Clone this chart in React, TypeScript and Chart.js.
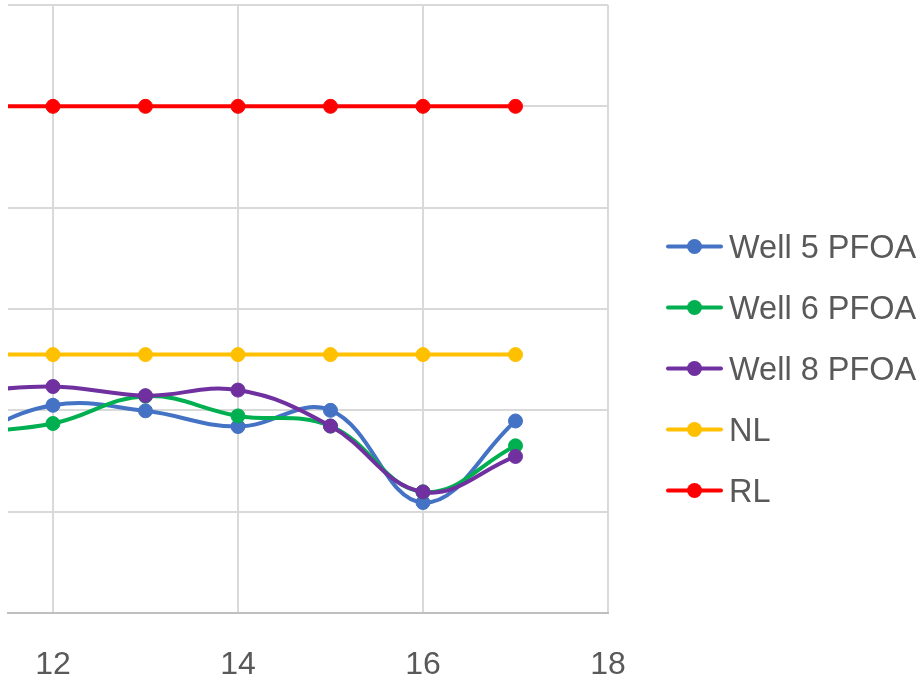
import React, { useEffect, useRef } from "react";
import { Chart, registerables } from "chart.js";

Chart.register(...registerables);

const xValues = [11, 12, 13, 14, 15, 16, 17];
const well5 = [3.4, 4.1, 3.99, 3.68, 4.0, 2.18, 3.79];
const well6 = [3.55, 3.74, 4.28, 3.89, 3.69, 2.39, 3.3];
const well8 = [4.35, 4.47, 4.29, 4.4, 3.69, 2.39, 3.09];
const nl = [5.1, 5.1, 5.1, 5.1, 5.1, 5.1, 5.1];
const rl = [10, 10, 10, 10, 10, 10, 10];

const seriesNames = ["Well 5 PFOA", "Well 6 PFOA", "Well 8 PFOA", "NL", "RL"];
const seriesColors = ["#4472C4", "#00B050", "#7030A0", "#FFC000", "#FF0000"];
const seriesValues = [well5, well6, well8, nl, rl];
const smooth = [true, true, true, false, false];

const xMin = 11.514;
const xMax = 18;
const yMin = 0;
const yMax = 12;
const xStep = 2;
const yStep = 2;

const FONT = "'Liberation Sans', Arial, sans-serif";

const legendPlugin = {
  id: "customLegend",
  afterDraw(chart: any) {
    const ctx = chart.ctx;
    ctx.save();
    const startY = 246.5;
    const gap = 61;
    seriesNames.forEach((name, i) => {
      const y = startY + i * gap;
      ctx.strokeStyle = seriesColors[i];
      ctx.lineWidth = 4;
      ctx.lineCap = "round";
      ctx.beginPath();
      ctx.moveTo(668, y);
      ctx.lineTo(721, y);
      ctx.stroke();
      ctx.fillStyle = seriesColors[i];
      ctx.beginPath();
      ctx.arc(694.5, y, 7.5, 0, Math.PI * 2);
      ctx.fill();
      ctx.fillStyle = "#595959";
      ctx.font = `32.5px ${FONT}`;
      ctx.textBaseline = "alphabetic";
      ctx.textAlign = "left";
      ctx.fillText(name, 729, y + 11.5);
    });
    ctx.restore();
  },
};

export default function App() {
  const ref = useRef<HTMLCanvasElement>(null);
  useEffect(() => {
    if (!ref.current) return;
    const chart = new Chart(ref.current, {
      type: "line",
      data: {
        datasets: seriesNames.map((name, i) => ({
          label: name,
          data: xValues.map((x, j) => ({ x, y: seriesValues[i][j] })),
          borderColor: seriesColors[i],
          backgroundColor: seriesColors[i],
          pointBackgroundColor: seriesColors[i],
          pointBorderColor: seriesColors[i],
          pointBorderWidth: 1,
          pointRadius: 7,
          borderWidth: 4,
          tension: smooth[i] ? 0.4 : 0,
          order: seriesNames.length - i,
          fill: false,
        })),
      },
      options: {
        animation: false,
        responsive: false,
        maintainAspectRatio: false,
        layout: { autoPadding: false, padding: { left: 8, top: 5, right: 311, bottom: 0 } },
        plugins: { legend: { display: false }, tooltip: { enabled: false } },
        scales: {
          x: {
            type: "linear",
            min: xMin,
            max: xMax,
            afterFit: (s: any) => {
              s.height = 71;
            },
            ticks: {
              stepSize: xStep,
              includeBounds: false,
              color: "#595959",
              font: { family: FONT, size: 32 },
              padding: 33,
              maxRotation: 0,
            },
            grid: { color: "#D9D9D9", lineWidth: 2, drawTicks: false },
            border: { display: true, color: "#BFBFBF", width: 2 },
          },
          y: {
            min: yMin,
            max: yMax,
            afterFit: (s: any) => {
              s.width = 0;
            },
            ticks: { stepSize: yStep, display: false },
            grid: { color: "#D9D9D9", lineWidth: 2, drawTicks: false },
            border: { display: false },
          },
        },
      },
      plugins: [legendPlugin],
    });
    return () => chart.destroy();
  }, []);
  return (
    <div style={{ position: "absolute", left: 0, top: 0, width: 919, height: 684, background: "#fff" }}>
      <canvas ref={ref} width={919} height={684} style={{ display: "block" }} />
    </div>
  );
}
